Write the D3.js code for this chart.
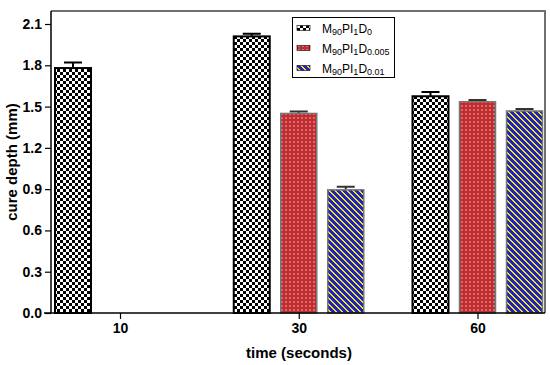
<!DOCTYPE html>
<html>
<head>
<meta charset="utf-8">
<script src="https://cdn.jsdelivr.net/npm/d3@7"></script>
<style>
  body { margin: 0; background: #fff; }
  svg { display: block; font-family: "Liberation Sans", Arial, sans-serif; }
</style>
</head>
<body>
<div class="chart"></div>
<script>
// data
var times = ["10", "30", "60"];
var seriesNames = ["D0", "D0.005", "D0.01"];
var meanD0 = [1.78, 2.01, 1.575];
var meanD0005 = [null, 1.45, 1.535];
var meanD001 = [null, 0.895, 1.468];
var errD0 = [0.04, 0.02, 0.03];
var errD0005 = [null, 0.015, 0.012];
var errD001 = [null, 0.022, 0.015];
var yTicks = [0, 0.3, 0.6, 0.9, 1.2, 1.5, 1.8, 2.1];

var svgWidth = 550, svgHeight = 365;
var plot = { left: 51, right: 545, top: 11, bottom: 313 };

var svg = d3.select(".chart").append("svg")
  .attr("width", svgWidth)
  .attr("height", svgHeight);

// patterns
var defs = svg.append("defs");

var pChk = defs.append("pattern").attr("id", "pChk")
  .attr("patternUnits", "userSpaceOnUse").attr("width", 6).attr("height", 6);
pChk.append("rect").attr("width", 6).attr("height", 6).attr("fill", "#fff");
pChk.append("rect").attr("width", 3).attr("height", 3).attr("fill", "#000");
pChk.append("rect").attr("x", 3).attr("y", 3).attr("width", 3).attr("height", 3).attr("fill", "#000");

var pRed = defs.append("pattern").attr("id", "pRed")
  .attr("patternUnits", "userSpaceOnUse").attr("width", 4).attr("height", 4);
pRed.append("rect").attr("width", 4).attr("height", 4).attr("fill", "#f01818");
pRed.append("rect").attr("x", 1).attr("y", 1).attr("width", 2).attr("height", 2).attr("fill", "#48a8b0");

// blue / yellow "\" stripes built pixel by pixel so they stay crisp
var pBlue = defs.append("pattern").attr("id", "pBlue")
  .attr("patternUnits", "userSpaceOnUse").attr("width", 6).attr("height", 6)
  .attr("shape-rendering", "crispEdges");
pBlue.append("rect").attr("width", 6).attr("height", 6).attr("fill", "#1c22c8");
d3.range(6).forEach(function(r) {
  [r, (r + 1) % 6].forEach(function(c) {
    pBlue.append("rect").attr("x", c).attr("y", r).attr("width", 1).attr("height", 1).attr("fill", "#f2e418");
  });
});

var series = [
  { name: seriesNames[0], mean: meanD0, err: errD0, fill: "url(#pChk)", stroke: "#000", sw: 2, ec: "#000" },
  { name: seriesNames[1], mean: meanD0005, err: errD0005, fill: "url(#pRed)", stroke: "#777", sw: 1.5, ec: "#333" },
  { name: seriesNames[2], mean: meanD001, err: errD001, fill: "url(#pBlue)", stroke: "#777", sw: 1.5, ec: "#333" }
];

// scales
var x0 = d3.scalePoint().domain(times).range([120, 477.5]);
var x1 = d3.scaleBand().domain(seriesNames).range([-65, 65]).paddingInner(0.234);
var y = d3.scaleLinear().domain([0, 2.1]).range([plot.bottom, 24]);

// frame (top and right, grey)
svg.append("path")
  .attr("d", `M${plot.left},${plot.top}H${plot.right}V${plot.bottom}`)
  .attr("fill", "none").attr("stroke", "#707070").attr("stroke-width", 2);

// bars
var rows = [];
series.forEach(function(s) {
  times.forEach(function(t, i) {
    if (s.mean[i] != null) rows.push({ s: s, t: t, v: s.mean[i], e: s.err[i] });
  });
});

var bars = svg.append("g");
bars.selectAll("path.err").data(rows).enter().append("path")
  .attr("class", "err")
  .attr("d", function(d) {
    var cx = x0(d.t) + x1(d.s.name) + x1.bandwidth() / 2;
    var ty = y(d.v + d.e);
    return `M${cx},${y(d.v)}V${ty}M${cx - 9},${ty}H${cx + 9}`;
  })
  .attr("fill", "none")
  .attr("stroke", function(d) { return d.s.ec; })
  .attr("stroke-width", 2);

bars.selectAll("rect").data(rows).enter().append("rect")
  .attr("x", function(d) { return x0(d.t) + x1(d.s.name); })
  .attr("y", function(d) { return y(d.v); })
  .attr("width", x1.bandwidth())
  .attr("height", function(d) { return y(0) - y(d.v); })
  .attr("fill", function(d) { return d.s.fill; })
  .attr("stroke", function(d) { return d.s.stroke; })
  .attr("stroke-width", function(d) { return d.s.sw; });

// axes
var leftAxis = d3.axisLeft(y).tickValues(yTicks).tickFormat(d3.format(".1f")).tickSizeOuter(0).tickSize(6).tickPadding(3);
var yAxisG = svg.append("g").attr("transform", `translate(${plot.left},0)`).call(leftAxis);
yAxisG.select(".domain").attr("d", `M0,${plot.top}V${plot.bottom}`).attr("stroke-width", 1.5);

var bottomAxis = d3.axisBottom(x0).tickSizeOuter(0).tickSize(6).tickPadding(4);
var xAxisG = svg.append("g").attr("transform", `translate(0,${plot.bottom})`).call(bottomAxis);
xAxisG.select(".domain").attr("d", `M44,0H${plot.right}`).attr("stroke-width", 1.5);

svg.selectAll(".tick line").attr("stroke", "#000").attr("stroke-width", 1.2);
svg.selectAll(".tick text").attr("font-size", 14).attr("font-weight", "bold")
  .attr("font-family", "'Liberation Sans', Arial, sans-serif").attr("fill", "#000");

// axis titles
svg.append("text")
  .attr("transform", `translate(17,${(plot.top + plot.bottom) / 2}) rotate(-90)`)
  .attr("text-anchor", "middle")
  .attr("font-size", 15).attr("font-weight", "bold")
  .text("cure depth (mm)");

svg.append("text")
  .attr("x", 299).attr("y", 358)
  .attr("text-anchor", "middle")
  .attr("font-size", 15).attr("font-weight", "bold")
  .text("time (seconds)");

// legend
var legend = svg.append("g");
legend.append("rect")
  .attr("x", 292.5).attr("y", 17.5).attr("width", 102).attr("height", 60)
  .attr("fill", "#fff").attr("stroke", "#000").attr("stroke-width", 1);

var items = legend.selectAll("g.item").data(series).enter().append("g")
  .attr("transform", function(d, i) { return `translate(297,${28 + i * 20})`; });
items.append("rect")
  .attr("x", 0).attr("y", -2.5).attr("width", 13).attr("height", 5)
  .attr("fill", function(d) { return d.fill; })
  .attr("stroke", "#000").attr("stroke-width", 0.6);

var lt = items.append("text").attr("x", 25).attr("y", 5).attr("font-size", 12).attr("fill", "#000");
lt.append("tspan").text("M");
lt.append("tspan").attr("font-size", 9).attr("dy", 2).text("90");
lt.append("tspan").attr("dy", -2).text("PI");
lt.append("tspan").attr("font-size", 9).attr("dy", 2).text("1");
lt.append("tspan").attr("dy", -2).text("D");
lt.append("tspan").attr("font-size", 9).attr("dy", 2).text(function(d) { return d.name.slice(1); });
</script>
</body>
</html>
